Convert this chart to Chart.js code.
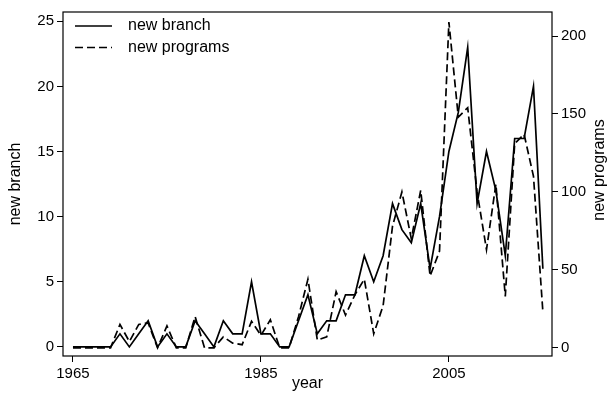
<!DOCTYPE html>
<html><head><meta charset="utf-8">
<script src="https://cdn.jsdelivr.net/npm/chart.js@4/dist/chart.umd.min.js"></script>
<style>html,body{margin:0;padding:0;background:#fff}#wrap{width:612px;height:404px;position:relative}</style>
</head><body><div id="wrap"><canvas id="c" width="612" height="404"></canvas></div>
<script>
const years = [1965,1966,1967,1968,1969,1970,1971,1972,1973,1974,1975,1976,1977,1978,1979,1980,1981,1982,1983,1984,1985,1986,1987,1988,1989,1990,1991,1992,1993,1994,1995,1996,1997,1998,1999,2000,2001,2002,2003,2004,2005,2006,2007,2008,2009,2010,2011,2012,2013,2014,2015];
const newBranch = [0,0,0,0,0,1,0,1,2,0,1,0,0,2,1,0,2,1,1,5,1,1,0,0,2,4,1,2,2,4,4,7,5,7,11,9,8,11,6,10,15,18,23,11,15,12,7,16,16,20,6];
const newPrograms = [0,0,0,0,0,15,4,15,16,0,14,0,0,20,0,0,7,3,2,17,8,18,0,0,20,44,5,7,36,21,34,44,9,27,78,100,70,101,46,62,209,148,154,100,63,105,33,131,137,110,23];
const yearTicks = [1965,1985,2005];
const branchTicks = [0,5,10,15,20,25];
const programTicks = [0,50,100,150,200];

const FONT = '"Liberation Sans", Arial, Helvetica, sans-serif';
const INK = '#000';

const boxPlugin = {
  id: 'boxAndExtras',
  afterDraw(chart) {
    const {ctx, chartArea: a} = chart;
    ctx.save();
    ctx.strokeStyle = INK;
    ctx.lineWidth = 1.2;
    ctx.setLineDash([]);
    ctx.strokeRect(a.left, a.top, a.right - a.left, a.bottom - a.top);
    ctx.fillStyle = INK;
    ctx.font = '16px ' + FONT;
    ctx.textAlign = 'center';
    ctx.textBaseline = 'middle';
    ctx.translate(600, 170);
    ctx.rotate(-Math.PI / 2);
    ctx.fillText(chart.options.plugins.rightTitle.text, 0, 0);
    ctx.restore();
    ctx.save();
    ctx.font = '16px ' + FONT;
    ctx.textBaseline = 'middle';
    ctx.textAlign = 'left';
    ctx.fillStyle = INK;
    chart.data.datasets.forEach((ds, i) => {
      const y = 26 + i * 21.5;
      ctx.strokeStyle = INK;
      ctx.lineWidth = ds.borderWidth;
      ctx.setLineDash(ds.borderDash || []);
      ctx.beginPath();
      ctx.moveTo(75, y);
      ctx.lineTo(112, y);
      ctx.stroke();
      ctx.fillText(ds.label, 128, y);
    });
    ctx.restore();
  }
};

const tickFont = {family: FONT, size: 15};
new Chart(document.getElementById('c'), {
  type: 'line',
  data: {
    datasets: [
      {label: 'new branch', data: years.map((y, i) => ({x: y, y: newBranch[i]})), yAxisID: 'yL',
       borderColor: INK, borderWidth: 1.7, pointRadius: 0, tension: 0, fill: false},
      {label: 'new programs', data: years.map((y, i) => ({x: y, y: newPrograms[i]})), yAxisID: 'yR',
       borderColor: INK, borderWidth: 1.7, borderDash: [8, 4], pointRadius: 0, tension: 0, fill: false}
    ]
  },
  options: {
    responsive: false,
    animation: false,
    devicePixelRatio: 1,
    layout: {padding: {top: 7, left: 0, right: 0, bottom: 0}},
    plugins: {legend: {display: false}, tooltip: {enabled: false}, rightTitle: {text: 'new programs'}},
    scales: {
      x: {
        type: 'linear', position: 'bottom', min: 1963.94, max: 2015.97,
        afterBuildTicks: s => { s.ticks = yearTicks.map(v => ({value: v})); },
        afterFit: s => { s.height = 48; },
        grid: {drawOnChartArea: false, tickLength: 6, color: INK, lineWidth: 1},
        border: {display: false},
        ticks: {font: tickFont, color: INK, padding: 3, maxRotation: 0, autoSkip: false, callback: v => String(v)},
        title: {display: true, text: 'year', font: {family: FONT, size: 16}, color: INK, padding: {top: 0, bottom: 11}}
      },
      yL: {
        type: 'linear', position: 'left', min: -0.70, max: 25.71,
        afterBuildTicks: s => { s.ticks = branchTicks.map(v => ({value: v})); },
        afterFit: s => { s.width = 63; },
        grid: {drawOnChartArea: false, tickLength: 6, color: INK, lineWidth: 1},
        border: {display: false},
        ticks: {font: tickFont, color: INK, padding: 3, callback: v => String(v)},
        title: {display: true, text: 'new branch', font: {family: FONT, size: 16}, color: INK, padding: {top: 6, bottom: 0}}
      },
      yR: {
        type: 'linear', position: 'right', min: -5.25, max: 215.4,
        afterBuildTicks: s => { s.ticks = programTicks.map(v => ({value: v})); },
        afterFit: s => { s.width = 60; },
        grid: {drawOnChartArea: false, tickLength: 6, color: INK, lineWidth: 1},
        border: {display: false},
        ticks: {font: tickFont, color: INK, padding: 3, callback: v => String(v)},
        title: {display: false}
      }
    }
  },
  plugins: [boxPlugin]
});
</script>
</body></html>
